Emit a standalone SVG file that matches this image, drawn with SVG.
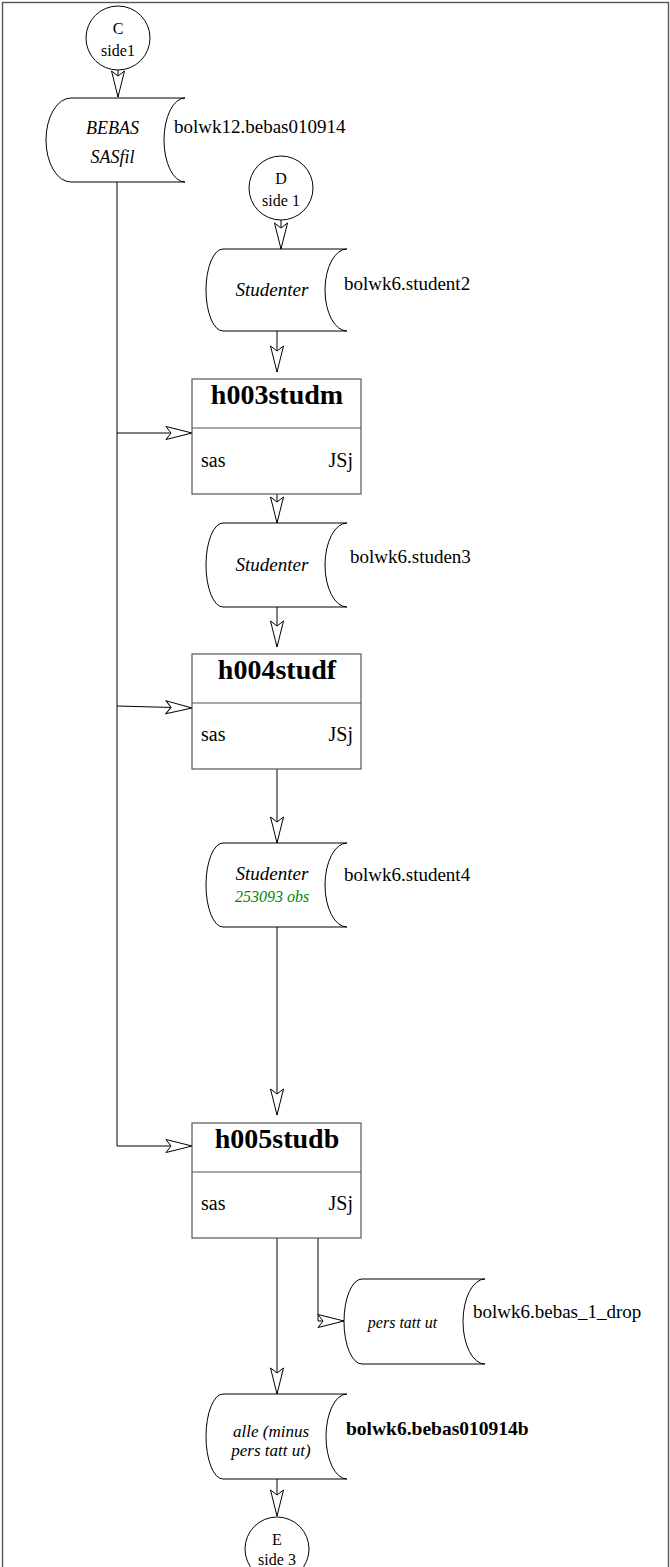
<svg xmlns="http://www.w3.org/2000/svg" width="670" height="1567" viewBox="0 0 670 1567">
<style>
.frame{fill:none;stroke:#555;stroke-width:1.4}
.circ{fill:#fff;stroke:#000;stroke-width:1}
.store{fill:#fff;stroke:#000;stroke-width:1}
.box{fill:#fff;stroke:#555;stroke-width:1.2}
.conn{fill:none;stroke:#000;stroke-width:1}
text{font-family:"Liberation Serif","Times New Roman",serif;fill:#000}
.ct{font-size:16px;text-anchor:middle}
.st{font-size:19px;font-style:italic;text-anchor:middle}
.lbl{font-size:19px}
.ttl{font-size:28px;font-weight:bold;text-anchor:middle}
.sm{font-size:20px}
.obs{font-size:16px;font-style:italic;text-anchor:middle;fill:#008800}
</style>
<defs>
<marker id="ah" markerUnits="userSpaceOnUse" orient="auto" refX="0" refY="0" markerWidth="30" markerHeight="20" viewBox="-28 -10 30 20" overflow="visible">
<path d="M0,0 L-26,-6.5 L-21,0 L-26,6.5 Z" fill="#fff" stroke="#000" stroke-width="1"/>
</marker>
</defs>
<rect class="frame" x="2.5" y="2.5" width="666" height="1600"/>

<g id="connectors">
<path class="conn" d="M118,70 L118,97" marker-end="url(#ah)"/>
<path class="conn" d="M117,182 L117,433 L192,433" marker-end="url(#ah)"/>
<path class="conn" d="M117,433 L117,706 L192,708" marker-end="url(#ah)"/>
<path class="conn" d="M117,706 L117,1146 L192,1146" marker-end="url(#ah)"/>
<path class="conn" d="M281,220 L281,249" marker-end="url(#ah)"/>
<path class="conn" d="M277,331 L277,372" marker-end="url(#ah)"/>
<path class="conn" d="M277,494 L277,523" marker-end="url(#ah)"/>
<path class="conn" d="M277,607 L277,647" marker-end="url(#ah)"/>
<path class="conn" d="M277,769 L277,843" marker-end="url(#ah)"/>
<path class="conn" d="M277,927 L277,1115" marker-end="url(#ah)"/>
<path class="conn" d="M277,1238 L277,1394" marker-end="url(#ah)"/>
<path class="conn" d="M318,1238 L318,1321 L344,1321" marker-end="url(#ah)"/>
<path class="conn" d="M277,1479 L277,1516" marker-end="url(#ah)"/>
</g>

<g id="nodeC">
<circle class="circ" cx="118" cy="38" r="32"/>
<text class="ct" x="118" y="34">C</text>
<text class="ct" x="118" y="56">side1</text>
</g>

<g id="nodeBEBAS">
<path class="store" d="M71,98 L185,98 A21,42 0 0 0 185,182 L71,182 A25,42 0 0 1 71,98 Z"/>
<text class="st" style="font-size:18px" x="112.5" y="134">BEBAS</text>
<text class="st" style="font-size:18px" x="112.5" y="163">SASfil</text>
<text class="lbl" x="174" y="133">bolwk12.bebas010914</text>
</g>

<g id="nodeD">
<circle class="circ" cx="281" cy="188" r="32"/>
<text class="ct" x="281" y="184">D</text>
<text class="ct" x="281" y="206">side 1</text>
</g>

<g id="nodeStud2">
<path class="store" d="M223,249 L347,249 A22,41 0 0 0 347,331 L223,331 A17,41 0 0 1 223,249 Z"/>
<text class="st" x="272" y="296">Studenter</text>
<text class="lbl" x="344" y="290">bolwk6.student2</text>
</g>

<g id="nodeH003">
<rect class="box" x="192" y="379" width="169" height="115"/>
<line class="box" x1="192" y1="428" x2="361" y2="428"/>
<text class="ttl" x="277" y="404">h003studm</text>
<text class="sm" x="201" y="467">sas</text>
<text class="sm" x="353" y="467" text-anchor="end">JSj</text>
</g>

<g id="nodeStud3">
<path class="store" d="M223,523 L347,523 A22,42 0 0 0 347,607 L223,607 A17,42 0 0 1 223,523 Z"/>
<text class="st" x="272" y="571">Studenter</text>
<text class="lbl" x="350" y="563">bolwk6.studen3</text>
</g>

<g id="nodeH004">
<rect class="box" x="192" y="654" width="169" height="115"/>
<line class="box" x1="192" y1="703" x2="361" y2="703"/>
<text class="ttl" x="277" y="679">h004studf</text>
<text class="sm" x="201" y="741">sas</text>
<text class="sm" x="353" y="741" text-anchor="end">JSj</text>
</g>

<g id="nodeStud4">
<path class="store" d="M223,843 L347,843 A22,42 0 0 0 347,927 L223,927 A17,42 0 0 1 223,843 Z"/>
<text class="st" x="272" y="880">Studenter</text>
<text class="obs" x="272" y="902">253093 obs</text>
<text class="lbl" x="344" y="881">bolwk6.student4</text>
</g>

<g id="nodeH005">
<rect class="box" x="192" y="1123" width="169" height="115"/>
<line class="box" x1="192" y1="1172" x2="361" y2="1172"/>
<text class="ttl" x="277" y="1148">h005studb</text>
<text class="sm" x="201" y="1210">sas</text>
<text class="sm" x="353" y="1210" text-anchor="end">JSj</text>
</g>

<g id="nodeDrop">
<path class="store" d="M362,1279 L485,1279 A22,42.5 0 0 0 485,1364 L362,1364 A18,42.5 0 0 1 362,1279 Z"/>
<text class="st" style="font-size:16px" x="402.5" y="1328">pers tatt ut</text>
<text class="lbl" x="473" y="1318">bolwk6.bebas_1_drop</text>
</g>

<g id="nodeAlle">
<path class="store" d="M223,1394 L347,1394 A21,42.5 0 0 0 347,1479 L223,1479 A17,42.5 0 0 1 223,1394 Z"/>
<text class="st" style="font-size:17px" x="271" y="1437">alle (minus</text>
<text class="st" style="font-size:17px" x="271" y="1456">pers tatt ut)</text>
<text class="lbl" style="font-weight:bold;font-size:19.5px" x="346" y="1435">bolwk6.bebas010914b</text>
</g>

<g id="nodeE">
<circle class="circ" cx="277" cy="1549" r="32"/>
<text class="ct" x="277" y="1545">E</text>
<text class="ct" x="277" y="1565">side 3</text>
</g>
</svg>
